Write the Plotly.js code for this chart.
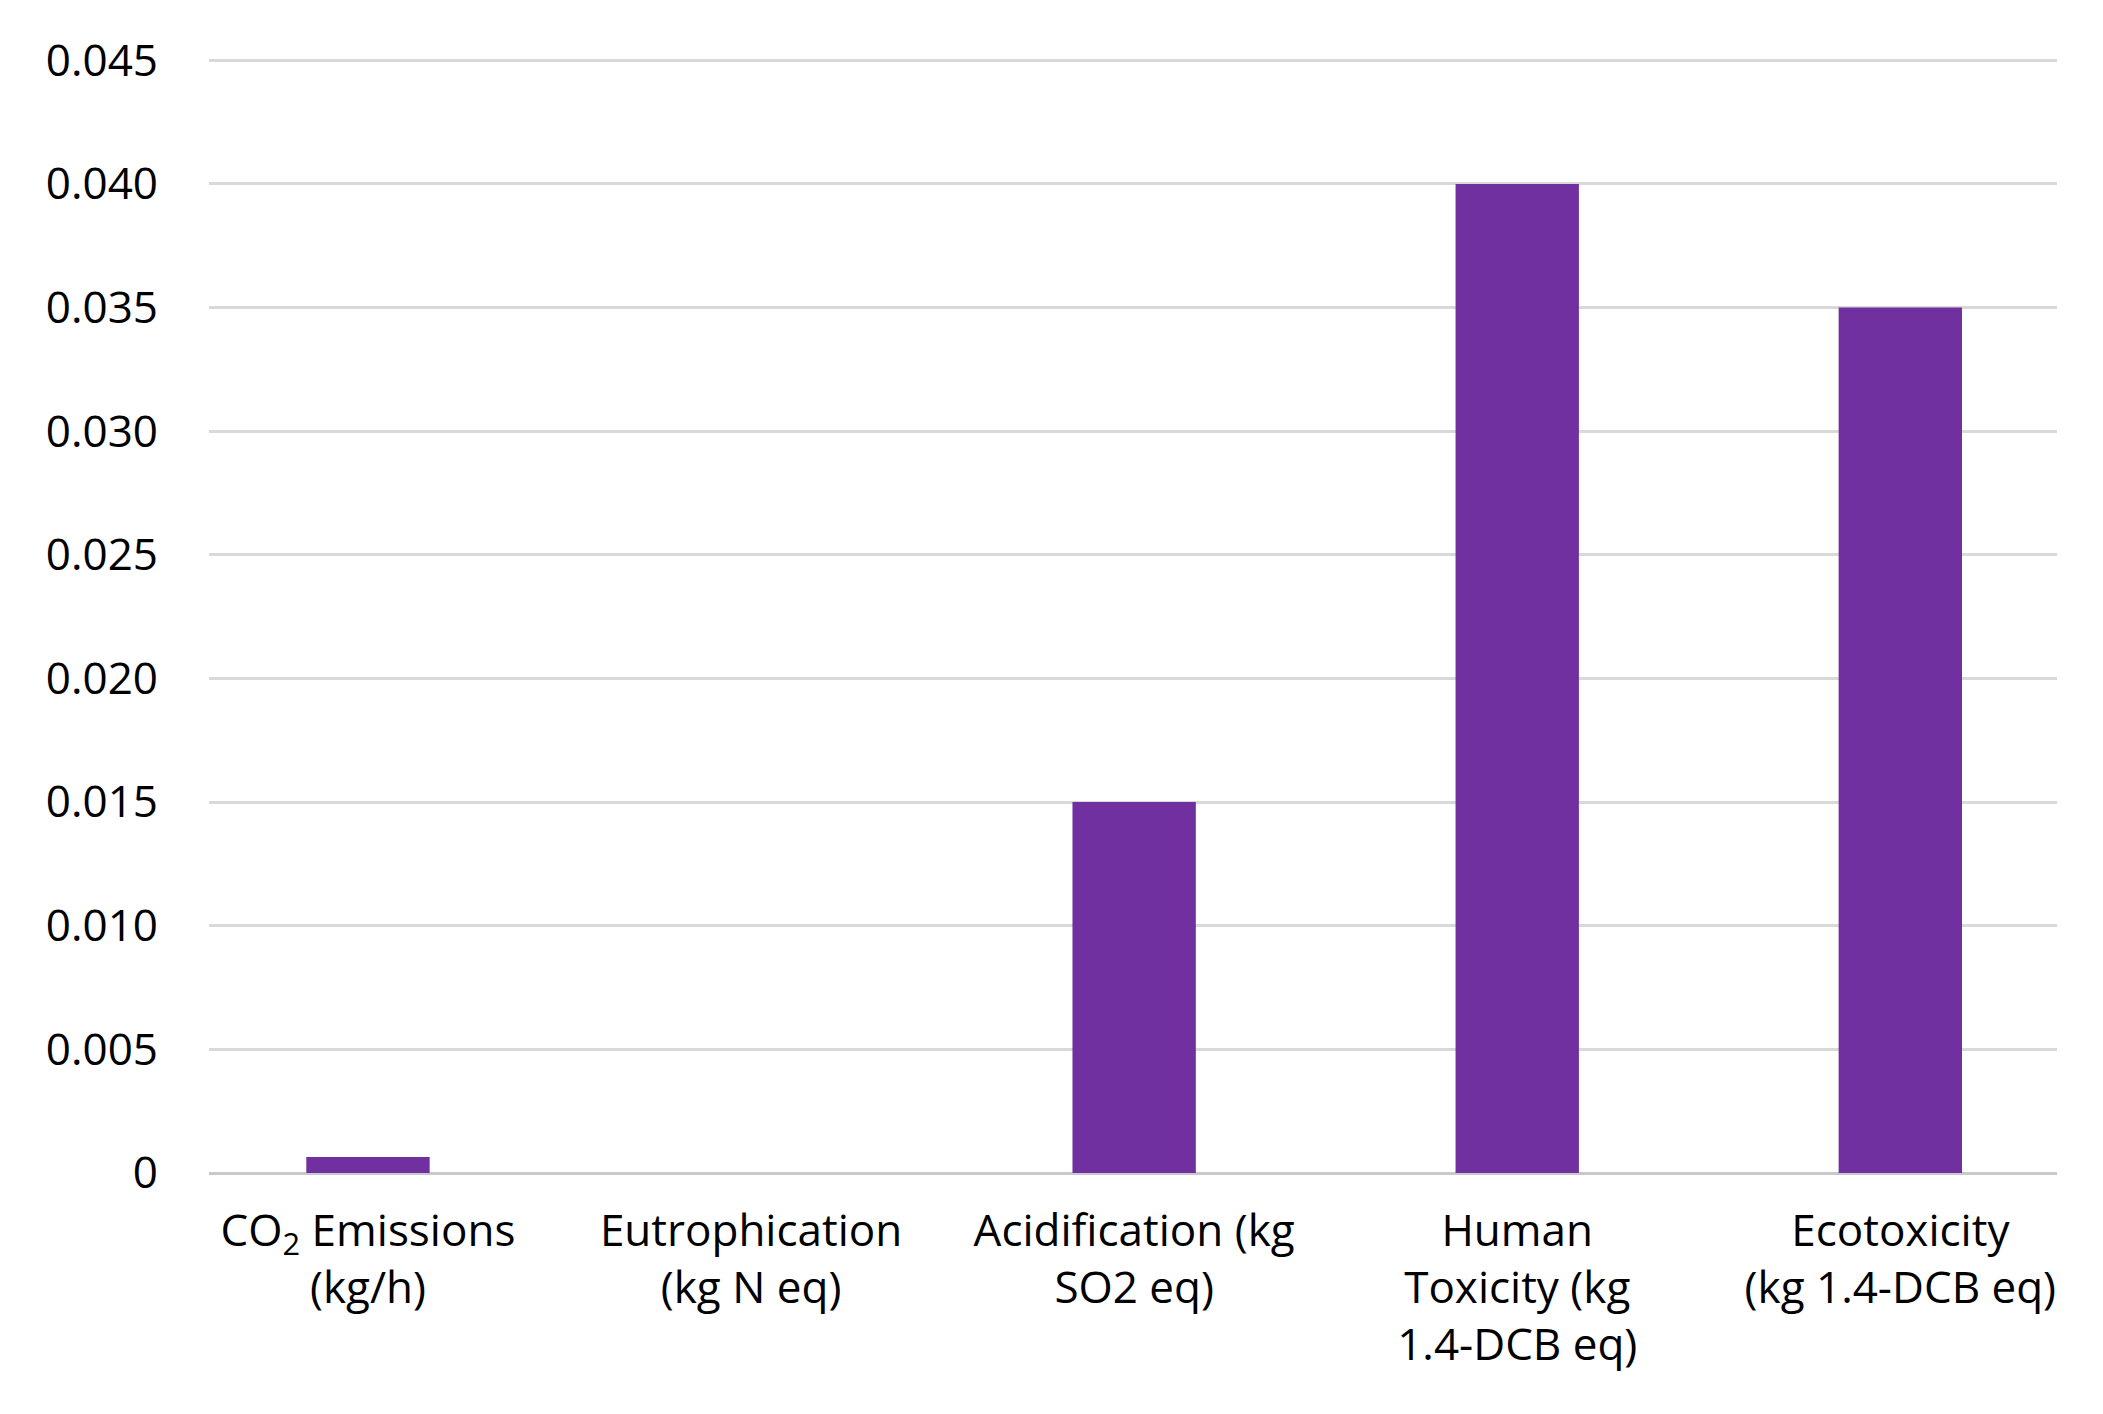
<!DOCTYPE html>
<html>
<head>
<meta charset="utf-8">
<script src="https://cdn.plot.ly/plotly-3.0.1.min.js"></script>
<style>
  html, body { margin: 0; padding: 0; background: #ffffff; }
  #chart { width: 2103px; height: 1414px; }
</style>
</head>
<body>
<div id="chart"></div>
<script>
// impact categories and values
const categories = [
    'CO<sub>2</sub> Emissions<br>(kg/h)',
    'Eutrophication<br>(kg N eq)',
    'Acidification (kg<br>SO2 eq)',
    'Human<br>Toxicity (kg<br>1.4-DCB eq)',
    'Ecotoxicity<br>(kg 1.4-DCB eq)'
];
const impactValues = [0.00065, 0, 0.015, 0.040, 0.035];

const yTickValues = [0, 0.005, 0.010, 0.015, 0.020, 0.025, 0.030, 0.035, 0.040, 0.045];
const yTickLabels = ['0', '0.005', '0.010', '0.015', '0.020', '0.025', '0.030', '0.035', '0.040', '0.045'];

const font = '"Open Sans", sans-serif';

const impact = {
    x: categories.map((c, i) => i),
    y: impactValues,
    type: 'bar',
    marker: { color: '#7030A0' },
    hoverinfo: 'y'
};

const layout = {
    width: 2103,
    height: 1414,
    margin: { l: 209, r: 46, t: 59, b: 241 },
    paper_bgcolor: '#ffffff',
    plot_bgcolor: '#ffffff',
    showlegend: false,
    bargap: 0.678,
    font: { family: font, size: 44, color: '#000000' },
    xaxis: {
        range: [-0.415, 4.409],
        tickvals: categories.map((c, i) => i),
        ticktext: categories,
        tickangle: 0,
        showgrid: false,
        zeroline: false,
        showline: false,
        ticks: '',
        ticklabelstandoff: 28,
        tickfont: { family: font, size: 44, color: '#000000' },
        fixedrange: true
    },
    yaxis: {
        range: [0, 0.04505],
        tickvals: yTickValues,
        ticktext: yTickLabels,
        showgrid: true,
        gridcolor: '#d9d9d9',
        gridwidth: 3,
        zeroline: true,
        zerolinecolor: '#c9c9c9',
        zerolinewidth: 3,
        showline: false,
        ticks: '',
        ticklabelstandoff: 50,
        tickfont: { family: font, size: 44, color: '#000000' },
        fixedrange: true
    }
};

Plotly.newPlot('chart', [impact], layout, { displayModeBar: false, staticPlot: true });
</script>
</body>
</html>
